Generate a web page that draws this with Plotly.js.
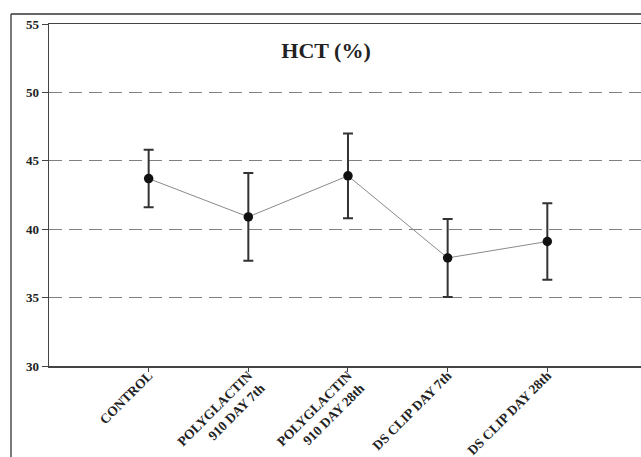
<!DOCTYPE html>
<html>
<head>
<meta charset="utf-8">
<script src="https://cdn.plot.ly/plotly-3.0.1.min.js"></script>
<style>
  html, body { margin: 0; padding: 0; background: #fff; }
  #chart { width: 641px; height: 457px; }
</style>
</head>
<body>
<div id="chart"></div>
<script>
// Haematocrit by group: mean with error bar (SD)
const groups = [
  "CONTROL",
  "POLYGLACTIN<br>910 DAY 7th",
  "POLYGLACTIN<br>910 DAY 28th",
  "DS CLIP DAY 7th",
  "DS CLIP DAY 28th"
];
const hctMean = [43.7, 40.9, 43.9, 37.9, 39.1];
const hctSD   = [2.1, 3.2, 3.1, 2.85, 2.8];
const yTicks  = [30, 35, 40, 45, 50, 55];

const xIdx = groups.map((_, i) => i);

const trace = {
  x: xIdx,
  y: hctMean,
  type: "scatter",
  mode: "lines+markers",
  line: { color: "#8a8a8a", width: 1 },
  marker: { color: "#111", size: 9.5 },
  error_y: {
    type: "data",
    array: hctSD,
    visible: true,
    color: "#333",
    thickness: 2,
    width: 5
  },
  cliponaxis: false,
  hoverinfo: "skip"
};

const serif = "'Liberation Serif', 'Times New Roman', serif";

const layout = {
  width: 641,
  height: 457,
  margin: { l: 49, r: 0, t: 24, b: 91, pad: 0 },
  paper_bgcolor: "#fff",
  plot_bgcolor: "#fff",
  showlegend: false,
  title: {
    text: "<b>HCT (%)</b>",
    font: { family: serif, size: 22, color: "#222" },
    xref: "paper",
    x: 0.468,
    xanchor: "center",
    yref: "container",
    y: 0.8895,
    yanchor: "middle"
  },
  xaxis: {
    range: [-1, 4.94],
    tickmode: "array",
    tickvals: xIdx,
    ticktext: groups.map(g => "<b>" + g + "</b>"),
    tickangle: -45,
    tickfont: { family: serif, size: 13.5, color: "#222" },
    ticklabelstandoff: -9,
    ticks: "outside",
    ticklen: 4,
    tickcolor: "#444",
    showline: true,
    linecolor: "#444",
    linewidth: 1.5,
    mirror: true,
    showgrid: false,
    zeroline: false
  },
  yaxis: {
    range: [30, 55],
    tickmode: "array",
    tickvals: yTicks,
    ticktext: yTicks.map(v => "<b>" + v + "</b>"),
    tickfont: { family: serif, size: 13, color: "#222" },
    ticks: "outside",
    ticklen: 6,
    tickcolor: "#444",
    showline: true,
    linecolor: "#444",
    linewidth: 1.5,
    showgrid: true,
    gridcolor: "#808080",
    gridwidth: 1.3,
    griddash: "13px,7px",
    zeroline: false
  },
  shapes: [
    // outer frame: top and left edges
    { type: "line", xref: "paper", yref: "paper",
      x0: -0.0642, x1: 1.01, y0: 1.0292, y1: 1.0292,
      line: { color: "#333", width: 1.3 } },
    { type: "line", xref: "paper", yref: "paper",
      x0: -0.0642, x1: -0.0642, y0: 1.0292, y1: -0.3,
      line: { color: "#333", width: 1.3 } }
  ]
};

Plotly.newPlot("chart", [trace], layout, { staticPlot: true, displayModeBar: false });
</script>
</body>
</html>
